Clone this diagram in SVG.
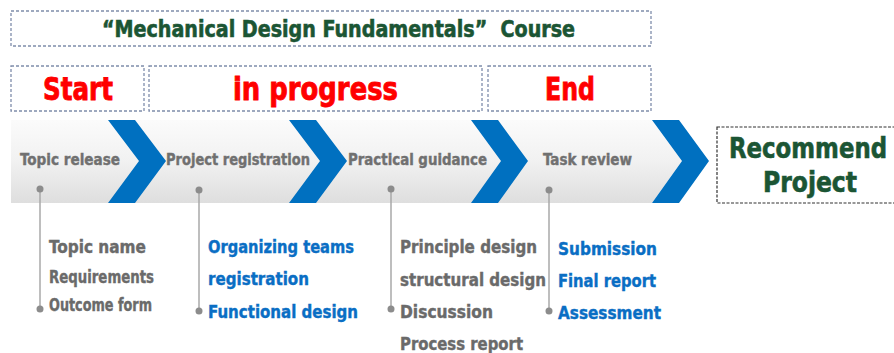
<svg xmlns="http://www.w3.org/2000/svg" width="894" height="353" viewBox="0 0 894 353">
  <defs>
    <linearGradient id="band" x1="0" y1="0" x2="0" y2="1">
      <stop offset="0" stop-color="#fbfbfb"/>
      <stop offset="0.5" stop-color="#f1f1f1"/>
      <stop offset="1" stop-color="#dedede"/>
    </linearGradient>
  </defs>
  <style>
    .t { font-family: "Liberation Sans Narrow", "DejaVu Sans Condensed", "Liberation Sans", sans-serif; font-weight: bold; }
    .box { fill: #ffffff; stroke: #7f8dab; stroke-width: 1.3; stroke-dasharray: 3 2; }
    .rbox { fill: #ffffff; stroke: #333333; stroke-width: 1.2; stroke-dasharray: 3 1.5; }
    .green { fill: #1b5534; stroke: #1b5534; stroke-width: 0.6; }
    .red { fill: #ff0000; stroke: #ff0000; stroke-width: 0.8; }
    .step { fill: #707070; stroke: #707070; stroke-width: 0.4; font-size: 16px; }
    .gray { fill: #6a6a6a; stroke: #6a6a6a; stroke-width: 0.4; font-size: 18px; }
    .blue { fill: #0a6ec4; stroke: #0a6ec4; stroke-width: 0.4; font-size: 18px; }
    .chev { fill: #0070c0; }
    .vline { stroke: #a8a8a8; stroke-width: 1.5; fill: none; }
    .dot { fill: #8c8c8c; }
  </style>

  <g id="title">
    <rect class="box" x="11" y="11" width="640" height="35"/>
    <text class="t green" x="102" y="37" font-size="23" textLength="473" lengthAdjust="spacingAndGlyphs">“Mechanical Design Fundamentals”&#160; Course</text>
  </g>

  <g id="start">
    <rect class="box" x="11" y="66" width="133" height="45"/>
    <text class="t red" x="43" y="100" font-size="32" textLength="70" lengthAdjust="spacingAndGlyphs">Start</text>
  </g>
  <g id="in-progress">
    <rect class="box" x="149" y="66" width="333" height="45"/>
    <text class="t red" x="233" y="100" font-size="32" textLength="165" lengthAdjust="spacingAndGlyphs">in progress</text>
  </g>
  <g id="end">
    <rect class="box" x="488" y="66" width="163" height="45"/>
    <text class="t red" x="545" y="100" font-size="32" textLength="50" lengthAdjust="spacingAndGlyphs">End</text>
  </g>

  <g id="band">
    <polygon points="11,120 652,120 682,161 652,203 11,203" fill="url(#band)"/>
  </g>

  <g id="step-topic-release">
    <polygon class="chev" points="108,120 135,120 166,161 135,203 108,203 139,161"/>
    <text class="t step" x="20" y="165" textLength="100" lengthAdjust="spacingAndGlyphs">Topic release</text>
  </g>
  <g id="step-project-registration">
    <polygon class="chev" points="289,120 316,120 347,161 316,203 289,203 320,161"/>
    <text class="t step" x="166" y="165" textLength="144" lengthAdjust="spacingAndGlyphs">Project registration</text>
  </g>
  <g id="step-practical-guidance">
    <polygon class="chev" points="471,120 498,120 528,161 498,203 471,203 501,161"/>
    <text class="t step" x="348" y="165" textLength="139" lengthAdjust="spacingAndGlyphs">Practical guidance</text>
  </g>
  <g id="step-task-review">
    <polygon class="chev" points="652,120 679,120 709,161 679,203 652,203 682,161"/>
    <text class="t step" x="543" y="165" textLength="89" lengthAdjust="spacingAndGlyphs">Task review</text>
  </g>

  <g id="recommend-project">
    <rect class="rbox" x="717" y="127" width="182" height="76"/>
    <text class="t green" x="729" y="158" font-size="28" textLength="158" lengthAdjust="spacingAndGlyphs">Recommend</text>
    <text class="t green" x="763" y="192" font-size="28" textLength="94" lengthAdjust="spacingAndGlyphs">Project</text>
  </g>

  <g id="connectors">
    <line class="vline" x1="40" y1="189" x2="40" y2="309"/>
    <circle class="dot" cx="40" cy="189" r="3.5"/>
    <circle class="dot" cx="40" cy="309" r="3.5"/>
    <line class="vline" x1="199" y1="190" x2="199" y2="311"/>
    <circle class="dot" cx="199" cy="190" r="3.5"/>
    <circle class="dot" cx="199" cy="311" r="3.5"/>
    <line class="vline" x1="391" y1="189" x2="391" y2="309"/>
    <circle class="dot" cx="391" cy="189" r="3.5"/>
    <circle class="dot" cx="391" cy="309" r="3.5"/>
    <line class="vline" x1="549" y1="190" x2="549" y2="311"/>
    <circle class="dot" cx="549" cy="190" r="3.5"/>
    <circle class="dot" cx="549" cy="311" r="3.5"/>
  </g>

  <g id="details-topic">
    <text class="t gray" x="49" y="253" font-size="20" textLength="97" lengthAdjust="spacingAndGlyphs">Topic name</text>
    <text class="t gray" x="49" y="283" font-size="17" textLength="105" lengthAdjust="spacingAndGlyphs">Requirements</text>
    <text class="t gray" x="49" y="311" font-size="17" textLength="103" lengthAdjust="spacingAndGlyphs">Outcome form</text>
  </g>
  <g id="details-registration">
    <text class="t blue" x="208" y="253" textLength="146" lengthAdjust="spacingAndGlyphs">Organizing teams</text>
    <text class="t blue" x="208" y="285" textLength="101" lengthAdjust="spacingAndGlyphs">registration</text>
    <text class="t blue" x="208" y="318" textLength="150" lengthAdjust="spacingAndGlyphs">Functional design</text>
  </g>
  <g id="details-guidance">
    <text class="t gray" x="400" y="253" textLength="137" lengthAdjust="spacingAndGlyphs">Principle design</text>
    <text class="t gray" x="400" y="286" textLength="146" lengthAdjust="spacingAndGlyphs">structural design</text>
    <text class="t gray" x="400" y="318" textLength="93" lengthAdjust="spacingAndGlyphs">Discussion</text>
    <text class="t gray" x="400" y="350" textLength="123" lengthAdjust="spacingAndGlyphs">Process report</text>
  </g>
  <g id="details-review">
    <text class="t blue" x="558" y="255" textLength="99" lengthAdjust="spacingAndGlyphs">Submission</text>
    <text class="t blue" x="558" y="287" textLength="98" lengthAdjust="spacingAndGlyphs">Final report</text>
    <text class="t blue" x="558" y="319" textLength="103" lengthAdjust="spacingAndGlyphs">Assessment</text>
  </g>
</svg>
